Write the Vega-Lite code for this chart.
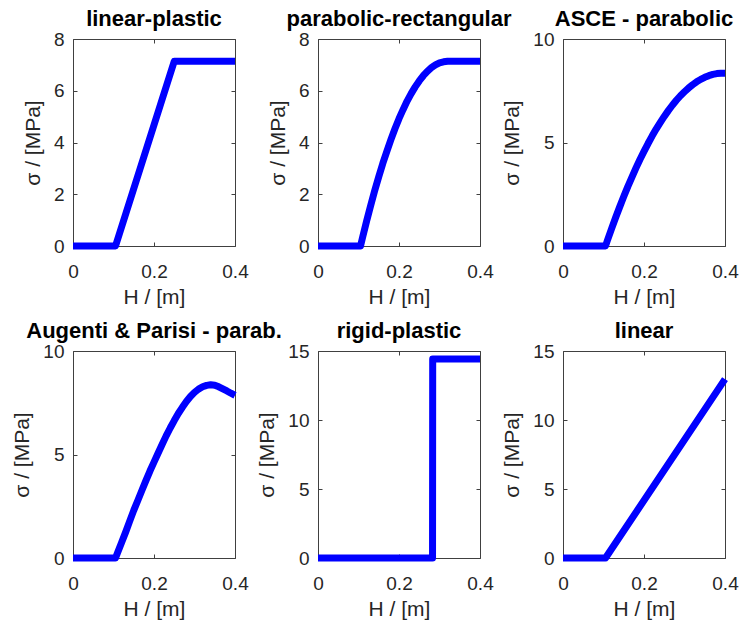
{
  "$schema": "https://vega.github.io/schema/vega-lite/v6.json",
  "padding": {"left": 11, "top": 7, "right": 5, "bottom": 5},
  "background": "white",
  "datasets": {
    "lp": [
      {"x": 0, "y": 0}, {"x": 0.105, "y": 0}, {"x": 0.25, "y": 7.14}, {"x": 0.4, "y": 7.14}
    ],
    "pr": [
      {"x": 0, "y": 0}, {"x": 0.105, "y": 0}, {"x": 0.11, "y": 0.33}, {"x": 0.12, "y": 0.96},
      {"x": 0.13, "y": 1.56}, {"x": 0.14, "y": 2.14}, {"x": 0.15, "y": 2.68}, {"x": 0.16, "y": 3.19},
      {"x": 0.17, "y": 3.66}, {"x": 0.18, "y": 4.11}, {"x": 0.19, "y": 4.53}, {"x": 0.2, "y": 4.92},
      {"x": 0.21, "y": 5.27}, {"x": 0.22, "y": 5.6}, {"x": 0.23, "y": 5.89}, {"x": 0.24, "y": 6.15},
      {"x": 0.25, "y": 6.38}, {"x": 0.26, "y": 6.58}, {"x": 0.27, "y": 6.75}, {"x": 0.28, "y": 6.89},
      {"x": 0.29, "y": 7.0}, {"x": 0.3, "y": 7.08}, {"x": 0.31, "y": 7.12}, {"x": 0.32, "y": 7.14},
      {"x": 0.4, "y": 7.14}
    ],
    "asce": [
      {"x": 0, "y": 0}, {"x": 0.105, "y": 0}, {"x": 0.11, "y": 0.29}, {"x": 0.12, "y": 0.84},
      {"x": 0.13, "y": 1.38}, {"x": 0.14, "y": 1.89}, {"x": 0.15, "y": 2.39}, {"x": 0.16, "y": 2.87},
      {"x": 0.17, "y": 3.32}, {"x": 0.18, "y": 3.76}, {"x": 0.19, "y": 4.18}, {"x": 0.2, "y": 4.57},
      {"x": 0.21, "y": 4.95}, {"x": 0.22, "y": 5.31}, {"x": 0.23, "y": 5.65}, {"x": 0.24, "y": 5.96},
      {"x": 0.25, "y": 6.26}, {"x": 0.26, "y": 6.54}, {"x": 0.27, "y": 6.8}, {"x": 0.28, "y": 7.04},
      {"x": 0.29, "y": 7.26}, {"x": 0.3, "y": 7.45}, {"x": 0.31, "y": 7.63}, {"x": 0.32, "y": 7.79},
      {"x": 0.33, "y": 7.93}, {"x": 0.34, "y": 8.05}, {"x": 0.35, "y": 8.15}, {"x": 0.36, "y": 8.23},
      {"x": 0.37, "y": 8.29}, {"x": 0.38, "y": 8.33}, {"x": 0.39, "y": 8.35}, {"x": 0.4, "y": 8.35}
    ],
    "ap": [
      {"x": 0, "y": 0}, {"x": 0.105, "y": 0}, {"x": 0.11, "y": 0.25}, {"x": 0.12, "y": 0.75},
      {"x": 0.13, "y": 1.25}, {"x": 0.14, "y": 1.78}, {"x": 0.15, "y": 2.3}, {"x": 0.16, "y": 2.78},
      {"x": 0.17, "y": 3.26}, {"x": 0.18, "y": 3.74}, {"x": 0.19, "y": 4.2}, {"x": 0.2, "y": 4.63},
      {"x": 0.21, "y": 5.06}, {"x": 0.22, "y": 5.48}, {"x": 0.23, "y": 5.9}, {"x": 0.24, "y": 6.28},
      {"x": 0.25, "y": 6.64}, {"x": 0.26, "y": 6.98}, {"x": 0.27, "y": 7.28}, {"x": 0.28, "y": 7.56},
      {"x": 0.29, "y": 7.8}, {"x": 0.3, "y": 8.0}, {"x": 0.31, "y": 8.16}, {"x": 0.32, "y": 8.27},
      {"x": 0.33, "y": 8.34}, {"x": 0.34, "y": 8.37}, {"x": 0.35, "y": 8.35}, {"x": 0.36, "y": 8.27},
      {"x": 0.37, "y": 8.17}, {"x": 0.38, "y": 8.07}, {"x": 0.39, "y": 7.96}, {"x": 0.4, "y": 7.86}
    ],
    "rp": [
      {"x": 0, "y": 0}, {"x": 0.2828, "y": 0}, {"x": 0.2832, "y": 14.42}, {"x": 0.4, "y": 14.42}
    ],
    "lin": [
      {"x": 0, "y": 0}, {"x": 0.105, "y": 0}, {"x": 0.4, "y": 12.96}
    ]
  },
  "columns": 3,
  "bounds": "flush",
  "spacing": {"row": 105, "column": 83},
  "concat": [
    {
      "data": {"name": "lp"}, "width": 162, "height": 207, "title": "linear-plastic",
      "layer": [
        {"mark": {"type": "line", "color": "#0000ff", "strokeWidth": 7, "strokeCap": "butt", "strokeJoin": "round"},
         "encoding": {
           "x": {"field": "x", "type": "quantitative", "scale": {"domain": [0, 0.4], "nice": false}, "axis": {"title": "H / [m]", "values": [0, 0.2, 0.4], "format": "~g"}},
           "y": {"field": "y", "type": "quantitative", "scale": {"domain": [0, 8], "nice": false}, "axis": {"title": "σ / [MPa]", "values": [0, 2, 4, 6, 8]}}}},
        {"mark": {"type": "line", "opacity": 0},
         "encoding": {
           "x": {"field": "x", "type": "quantitative", "axis": {"orient": "top", "labels": false, "title": null, "values": [0, 0.2, 0.4]}},
           "y": {"field": "y", "type": "quantitative", "axis": {"orient": "right", "labels": false, "title": null, "values": [0, 2, 4, 6, 8]}}}}
      ],
      "resolve": {"axis": {"x": "independent", "y": "independent"}}
    },
    {
      "data": {"name": "pr"}, "width": 162, "height": 207, "title": "parabolic-rectangular",
      "layer": [
        {"mark": {"type": "line", "color": "#0000ff", "strokeWidth": 7, "strokeCap": "butt", "strokeJoin": "round"},
         "encoding": {
           "x": {"field": "x", "type": "quantitative", "scale": {"domain": [0, 0.4], "nice": false}, "axis": {"title": "H / [m]", "values": [0, 0.2, 0.4], "format": "~g"}},
           "y": {"field": "y", "type": "quantitative", "scale": {"domain": [0, 8], "nice": false}, "axis": {"title": "σ / [MPa]", "values": [0, 2, 4, 6, 8]}}}},
        {"mark": {"type": "line", "opacity": 0},
         "encoding": {
           "x": {"field": "x", "type": "quantitative", "axis": {"orient": "top", "labels": false, "title": null, "values": [0, 0.2, 0.4]}},
           "y": {"field": "y", "type": "quantitative", "axis": {"orient": "right", "labels": false, "title": null, "values": [0, 2, 4, 6, 8]}}}}
      ],
      "resolve": {"axis": {"x": "independent", "y": "independent"}}
    },
    {
      "data": {"name": "asce"}, "width": 162, "height": 207, "title": "ASCE - parabolic",
      "layer": [
        {"mark": {"type": "line", "color": "#0000ff", "strokeWidth": 7, "strokeCap": "butt", "strokeJoin": "round"},
         "encoding": {
           "x": {"field": "x", "type": "quantitative", "scale": {"domain": [0, 0.4], "nice": false}, "axis": {"title": "H / [m]", "values": [0, 0.2, 0.4], "format": "~g"}},
           "y": {"field": "y", "type": "quantitative", "scale": {"domain": [0, 10], "nice": false}, "axis": {"title": "σ / [MPa]", "values": [0, 5, 10]}}}},
        {"mark": {"type": "line", "opacity": 0},
         "encoding": {
           "x": {"field": "x", "type": "quantitative", "axis": {"orient": "top", "labels": false, "title": null, "values": [0, 0.2, 0.4]}},
           "y": {"field": "y", "type": "quantitative", "axis": {"orient": "right", "labels": false, "title": null, "values": [0, 5, 10]}}}}
      ],
      "resolve": {"axis": {"x": "independent", "y": "independent"}}
    },
    {
      "data": {"name": "ap"}, "width": 162, "height": 207, "title": "Augenti & Parisi - parab.",
      "layer": [
        {"mark": {"type": "line", "color": "#0000ff", "strokeWidth": 7, "strokeCap": "butt", "strokeJoin": "round"},
         "encoding": {
           "x": {"field": "x", "type": "quantitative", "scale": {"domain": [0, 0.4], "nice": false}, "axis": {"title": "H / [m]", "values": [0, 0.2, 0.4], "format": "~g"}},
           "y": {"field": "y", "type": "quantitative", "scale": {"domain": [0, 10], "nice": false}, "axis": {"title": "σ / [MPa]", "values": [0, 5, 10]}}}},
        {"mark": {"type": "line", "opacity": 0},
         "encoding": {
           "x": {"field": "x", "type": "quantitative", "axis": {"orient": "top", "labels": false, "title": null, "values": [0, 0.2, 0.4]}},
           "y": {"field": "y", "type": "quantitative", "axis": {"orient": "right", "labels": false, "title": null, "values": [0, 5, 10]}}}}
      ],
      "resolve": {"axis": {"x": "independent", "y": "independent"}}
    },
    {
      "data": {"name": "rp"}, "width": 162, "height": 207, "title": "rigid-plastic",
      "layer": [
        {"mark": {"type": "line", "color": "#0000ff", "strokeWidth": 7, "strokeCap": "butt", "strokeJoin": "round"},
         "encoding": {
           "x": {"field": "x", "type": "quantitative", "scale": {"domain": [0, 0.4], "nice": false}, "axis": {"title": "H / [m]", "values": [0, 0.2, 0.4], "format": "~g"}},
           "y": {"field": "y", "type": "quantitative", "scale": {"domain": [0, 15], "nice": false}, "axis": {"title": "σ / [MPa]", "values": [0, 5, 10, 15]}}}},
        {"mark": {"type": "line", "opacity": 0},
         "encoding": {
           "x": {"field": "x", "type": "quantitative", "axis": {"orient": "top", "labels": false, "title": null, "values": [0, 0.2, 0.4]}},
           "y": {"field": "y", "type": "quantitative", "axis": {"orient": "right", "labels": false, "title": null, "values": [0, 5, 10, 15]}}}}
      ],
      "resolve": {"axis": {"x": "independent", "y": "independent"}}
    },
    {
      "data": {"name": "lin"}, "width": 162, "height": 207, "title": "linear",
      "layer": [
        {"mark": {"type": "line", "color": "#0000ff", "strokeWidth": 7, "strokeCap": "butt", "strokeJoin": "round"},
         "encoding": {
           "x": {"field": "x", "type": "quantitative", "scale": {"domain": [0, 0.4], "nice": false}, "axis": {"title": "H / [m]", "values": [0, 0.2, 0.4], "format": "~g"}},
           "y": {"field": "y", "type": "quantitative", "scale": {"domain": [0, 15], "nice": false}, "axis": {"title": "σ / [MPa]", "values": [0, 5, 10, 15]}}}},
        {"mark": {"type": "line", "opacity": 0},
         "encoding": {
           "x": {"field": "x", "type": "quantitative", "axis": {"orient": "top", "labels": false, "title": null, "values": [0, 0.2, 0.4]}},
           "y": {"field": "y", "type": "quantitative", "axis": {"orient": "right", "labels": false, "title": null, "values": [0, 5, 10, 15]}}}}
      ],
      "resolve": {"axis": {"x": "independent", "y": "independent"}}
    }
  ],
  "config": {
    "view": {"stroke": "#404040", "strokeWidth": 1},
    "axis": {
      "grid": false,
      "domain": false,
      "tickSize": -4,
      "tickColor": "#404040",
      "tickWidth": 1,
      "labelFont": "Liberation Sans",
      "labelFontSize": 19,
      "labelColor": "#262626",
      "labelFlush": false,
      "labelOverlap": false,
      "labelBound": false,
      "titleFont": "Liberation Sans",
      "titleFontSize": 21,
      "titleFontWeight": "normal",
      "titleColor": "#262626"
    },
    "axisX": {"labelPadding": 20, "titlePadding": 5},
    "axisY": {"labelPadding": 13, "titlePadding": 10},
    "title": {"font": "Liberation Sans", "fontSize": 22, "fontWeight": "bold", "color": "#000000", "offset": -1}
  }
}
